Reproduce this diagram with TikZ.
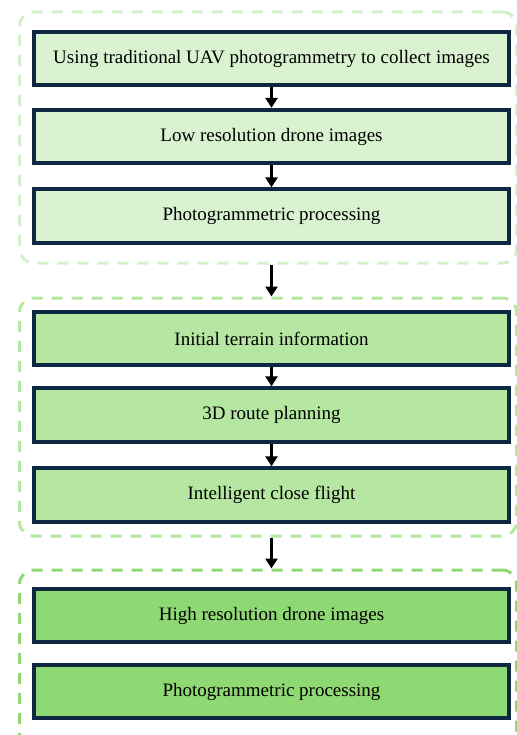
\documentclass[tikz,border=0pt]{standalone}
\usepackage{fontspec}
\setmainfont{Liberation Serif}
\usetikzlibrary{arrows.meta}
\definecolor{gA}{HTML}{D9F2D0}
\definecolor{gB}{HTML}{B5E6A2}
\definecolor{gC}{HTML}{8ED973}
\definecolor{bd}{HTML}{0E2841}
\tikzset{
  stepbox/.style={draw=bd, line width=3.8pt, minimum width=475.5pt, minimum height=53.5pt, inner sep=0pt, font=\fontsize{19}{23}\selectfont},
  group/.style={dash pattern=on 11pt off 9pt, line width=3pt, rounded corners=14pt, minimum width=497pt, inner sep=0pt},
  arr/.style={-{Triangle[length=10pt,width=12pt]}, line width=2.6pt, black}
}
\begin{document}
\begin{tikzpicture}[x=1pt,y=-1pt]
\useasboundingbox (0,0) rectangle (516,735);
% containers
\node[group, draw=gA!85!gB, minimum height=251pt] (G1) at (268,137.5) {};
\node[group, draw=gB, minimum height=238pt] (G2) at (268,417) {};
\node[group, draw=gC, minimum height=180pt] (G3) at (268,660) {};
% boxes
\node[stepbox, fill=gA] (a1) at (271.5,58.5) {Using traditional UAV photogrammetry to collect images};
\node[stepbox, fill=gA] (a2) at (271.5,136.5) {Low resolution drone images};
\node[stepbox, fill=gA] (a3) at (271.5,216) {Photogrammetric processing};
\node[stepbox, fill=gB] (b1) at (271.5,338.5) {Initial terrain information};
\node[stepbox, fill=gB] (b2) at (271.5,415) {3D route planning};
\node[stepbox, fill=gB] (b3) at (271.5,495) {Intelligent close flight};
\node[stepbox, fill=gC] (c1) at (271.5,615.5) {High resolution drone images};
\node[stepbox, fill=gC] (c2) at (271.5,691.5) {Photogrammetric processing};
% arrows
\draw[arr] (a1.south) -- (a2.north);
\draw[arr] (a2.south) -- (a3.north);
\draw[arr] (b1.south) -- (b2.north);
\draw[arr] (b2.south) -- (b3.north);
\draw[arr] (G1.south -| a3.south) -- (G2.north -| b1.north);
\draw[arr] (G2.south -| b3.south) -- (G3.north -| c1.north);
\end{tikzpicture}
\end{document}
